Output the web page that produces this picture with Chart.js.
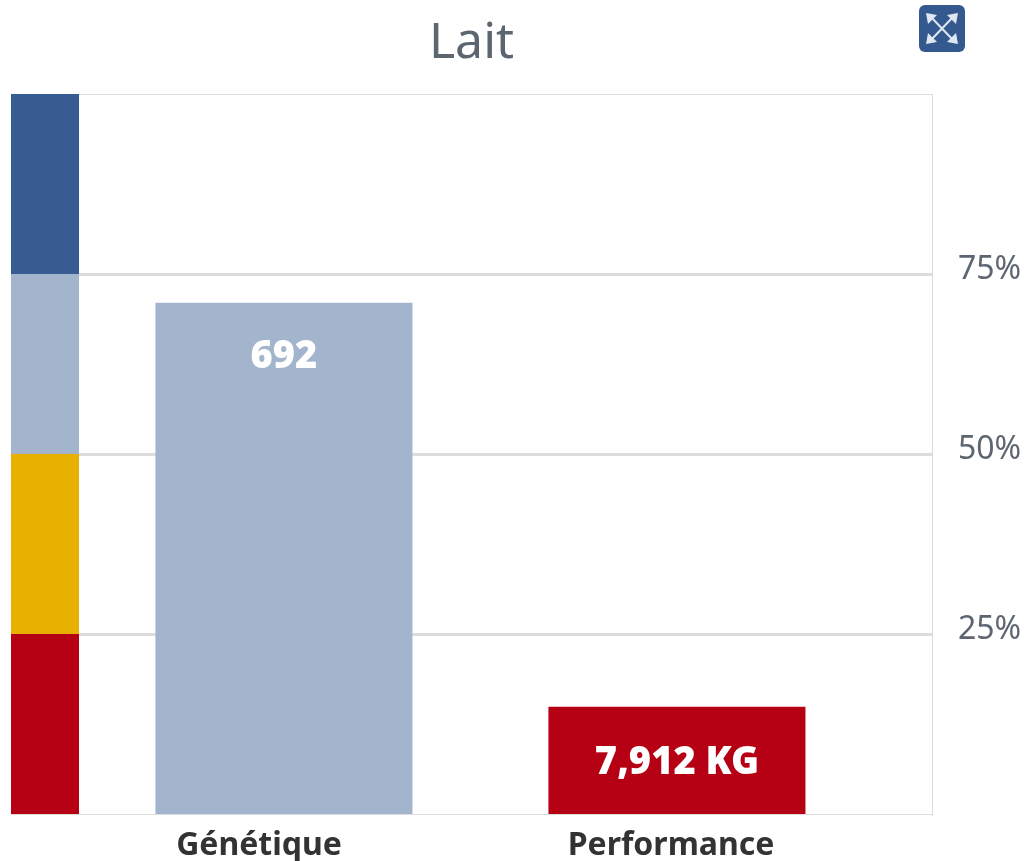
<!DOCTYPE html>
<html><head><meta charset="utf-8">
<style>html,body{margin:0;padding:0;background:#fff}#w{position:relative;width:1024px;height:861px}canvas{display:block}</style>
<script src="https://cdn.jsdelivr.net/npm/chart.js@4"></script></head>
<body><div id="w"><canvas id="c" width="1024" height="861"></canvas></div>
<script>
const categories=['Génétique','Performance'];
const barValues=[71,14.9];
const barLabels=['692','7,912 KG'];
const barColors=['#a3b5cd','#b60014'];
const bandEdges=[[75,100],[50,75],[25,50],[0,25]];
const bandColors=['#365c92','#a3b5cd','#e8b100','#b60014'];
const tickValues=[25,50,75,100];
const titleText='Lait';
const FONT='"Noto Sans","Open Sans",sans-serif';

const bandPlugin={id:'bands',beforeDatasetsDraw(ch){
  const {ctx,scales:{y},chartArea:a}=ch;
  bandEdges.forEach((b,i)=>{
    ctx.fillStyle=bandColors[i];
    const t=y.getPixelForValue(b[1]),bt=y.getPixelForValue(b[0]);
    ctx.fillRect(a.left,t,68,bt-t);
  });
}};
const barText={id:'barText',afterDatasetsDraw(ch){
  const {ctx}=ch;
  ch.getDatasetMeta(0).data.forEach((el,i)=>{
    ctx.save();ctx.fillStyle='#fff';ctx.font='900 38px '+FONT;ctx.textAlign='center';ctx.textBaseline='middle';
    ctx.fillText(barLabels[i],el.x,i===0?el.y+54:el.y+56);ctx.restore();
  });
}};
const icon={id:'icon',afterDraw(ch){
  const c=ch.ctx,x=919,y=5,s=46;
  c.save();c.fillStyle='#33598f';c.beginPath();c.roundRect(x,y,s,s+1,6);c.fill();
  c.strokeStyle='#dfe7f1';c.lineWidth=2;c.beginPath();
  c.moveTo(x+11,y+11);c.lineTo(x+35,y+36);c.moveTo(x+35,y+11);c.lineTo(x+11,y+36);c.stroke();
  c.fillStyle='#dfe7f1';
  [[7,8,1,1],[39,8,-1,1],[7,39,1,-1],[39,39,-1,-1]].forEach(([px,py,dx,dy])=>{
    c.beginPath();c.moveTo(x+px,y+py);c.lineTo(x+px+11*dx,y+py+2*dy);c.lineTo(x+px+2*dx,y+py+11*dy);c.closePath();c.fill();
  });
  c.restore();
}};
new Chart(document.getElementById('c'),{
  type:'bar',
  data:{labels:categories,datasets:[{data:barValues,backgroundColor:barColors,barPercentage:1,categoryPercentage:0.654,xAxisID:'x',yAxisID:'y'}]},
  plugins:[bandPlugin,barText,icon],
  options:{responsive:false,animation:false,
    layout:{padding:{left:11,right:0,top:0,bottom:0}},
    plugins:{legend:{display:false},tooltip:{enabled:false},
      title:{display:true,fullSize:false,text:titleText,color:'#5d6670',font:{family:FONT,size:50,weight:'400'},padding:{top:14,bottom:20}}},
    scales:{
      x:{position:'bottom',weight:0,afterFit(s){s.height=0},
         afterBuildTicks(s){s._startValue=-0.6945;s._valueRange=2.3435},
         grid:{display:false},border:{color:'#dcdcdc'},
         ticks:{display:false}},
      x2:{type:'category',position:'bottom',weight:1,afterFit(s){s.height=47},
         afterBuildTicks(s){s._startValue=-0.602;s._valueRange=2.2354},
         grid:{display:false,drawTicks:false},border:{display:false},
         ticks:{color:'#333',font:{family:FONT,size:32,weight:'700'},padding:13,maxRotation:0}},
      y:{position:'right',min:0,max:100,afterFit(s){s.width=92},
         afterBuildTicks(s){s.ticks=tickValues.map(v=>({value:v}))},
         grid:{color:'#dcdcdc',lineWidth:c=>c.tick&&c.tick.value===100?1:3,drawTicks:false},border:{color:'#dcdcdc'},
         ticks:{color:'#5d6670',font:{family:FONT,size:32},padding:26,labelOffset:-4,callback:v=>v===100?'':v+'%'}}
    }}
});
</script></body></html>
